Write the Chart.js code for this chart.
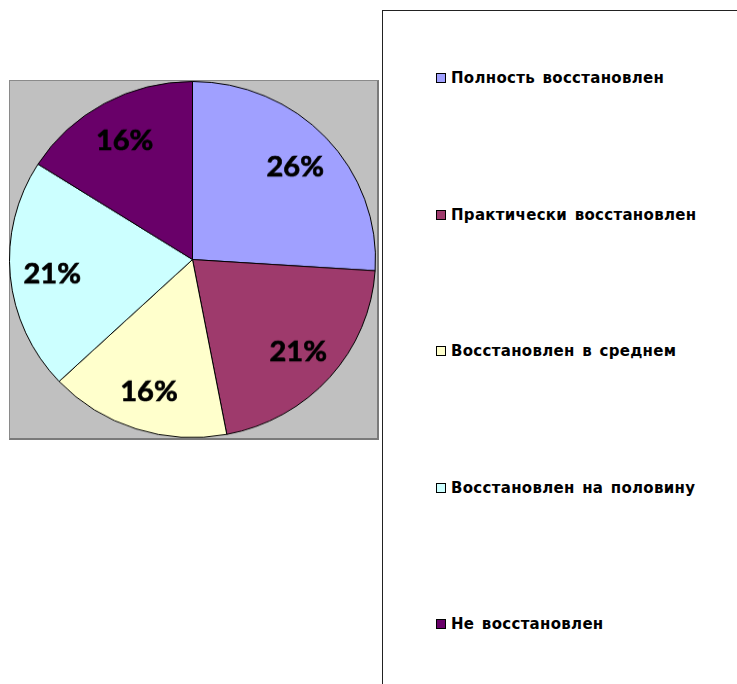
<!DOCTYPE html>
<html lang="ru">
<head>
<meta charset="utf-8">
<title>Степень восстановления</title>
<script src="https://cdn.jsdelivr.net/npm/chart.js@4/dist/chart.umd.min.js"></script>
<style>
    body {
        margin: 0;
        background: #fff;
        width: 737px;
        height: 684px;
        overflow: hidden;
        position: relative;
    }
    #plot-bg {
        position: absolute;
        left: 9px;
        top: 80px;
        width: 367px;
        height: 357px;
        background: #c0c0c0;
        border-left: 1px solid #8a8a8a;
        border-top: 1px solid #8a8a8a;
        border-right: 2px solid #7a7a7a;
        border-bottom: 2px solid #7a7a7a;
    }
    #pie-wrap {
        position: absolute;
        left: 9px;
        top: 81px;
        width: 367px;
        height: 367px;
        transform: scaleY(0.9728);
        transform-origin: 0 0;
    }
    #legend-box {
        position: absolute;
        left: 382px;
        top: 10px;
        width: 380px;
        height: 700px;
        border: 1px solid #222;
        box-sizing: border-box;
    }
    .legend-item {
        position: absolute;
        left: 53px;
        display: flex;
        align-items: center;
        height: 20px;
        margin-top: -10px;
        font-family: 'DejaVu Sans', sans-serif;
        font-weight: bold;
        font-size: 15px;
        letter-spacing: 0.3px;
        word-spacing: 2px;
        color: #000;
        white-space: nowrap;
    }
    .legend-swatch {
        width: 8px;
        height: 8px;
        border: 1px solid #000;
        margin-right: 5px;
    }
</style>
</head>
<body>
<div id="plot-bg"></div>
<div id="pie-wrap"><canvas id="pieChart" width="367" height="367"></canvas></div>
<div id="legend-box"></div>

<script>
const categories = [
    'Полность восстановлен',
    'Практически восстановлен',
    'Восстановлен в среднем',
    'Восстановлен на половину',
    'Не восстановлен'
];
const shares = [26, 21, 16, 21, 16];
const sliceColors = ['#a0a0ff', '#9e3a6c', '#ffffcc', '#ccffff', '#690069'];

// Percent labels inside each slice
const sliceLabels = {
    id: 'sliceLabels',
    afterDatasetsDraw(chart) {
        const ctx = chart.ctx;
        const meta = chart.getDatasetMeta(0);
        const data = chart.data.datasets[0].data;
        const total = data.reduce((a, b) => a + b, 0);
        ctx.save();
        ctx.font = 'bold 29px Lato';
        ctx.fillStyle = '#000';
        ctx.strokeStyle = '#000';
        ctx.lineWidth = 0.7;
        ctx.textAlign = 'center';
        ctx.textBaseline = 'middle';
        meta.data.forEach((arc, i) => {
            const p = arc.getProps(['x', 'y', 'startAngle', 'endAngle', 'outerRadius'], true);
            const mid = (p.startAngle + p.endAngle) / 2;
            const r = p.outerRadius * 0.77;
            const text = Math.round(data[i] / total * 100) + '%';
            const tx = p.x + Math.cos(mid) * r;
            const ty = p.y + Math.sin(mid) * r + 2;
            ctx.fillText(text, tx, ty);
            ctx.strokeText(text, tx, ty);
        });
        ctx.restore();
    }
};

new Chart(document.getElementById('pieChart'), {
    type: 'pie',
    data: {
        labels: categories,
        datasets: [{
            data: shares,
            backgroundColor: sliceColors,
            borderColor: '#000',
            borderWidth: 1
        }]
    },
    options: {
        responsive: false,
        animation: false,
        layout: { padding: 0 },
        plugins: {
            legend: { display: false },
            tooltip: { enabled: false }
        }
    },
    plugins: [sliceLabels]
});

// Legend on the right, one entry per category
const legendBox = document.getElementById('legend-box');
categories.forEach((name, i) => {
    const item = document.createElement('div');
    item.className = 'legend-item';
    item.style.top = (67 + i * 136.6) + 'px';
    item.innerHTML = `<span class="legend-swatch" style="background:${sliceColors[i]}"></span><span>${name}</span>`;
    legendBox.appendChild(item);
});
</script>
</body>
</html>
